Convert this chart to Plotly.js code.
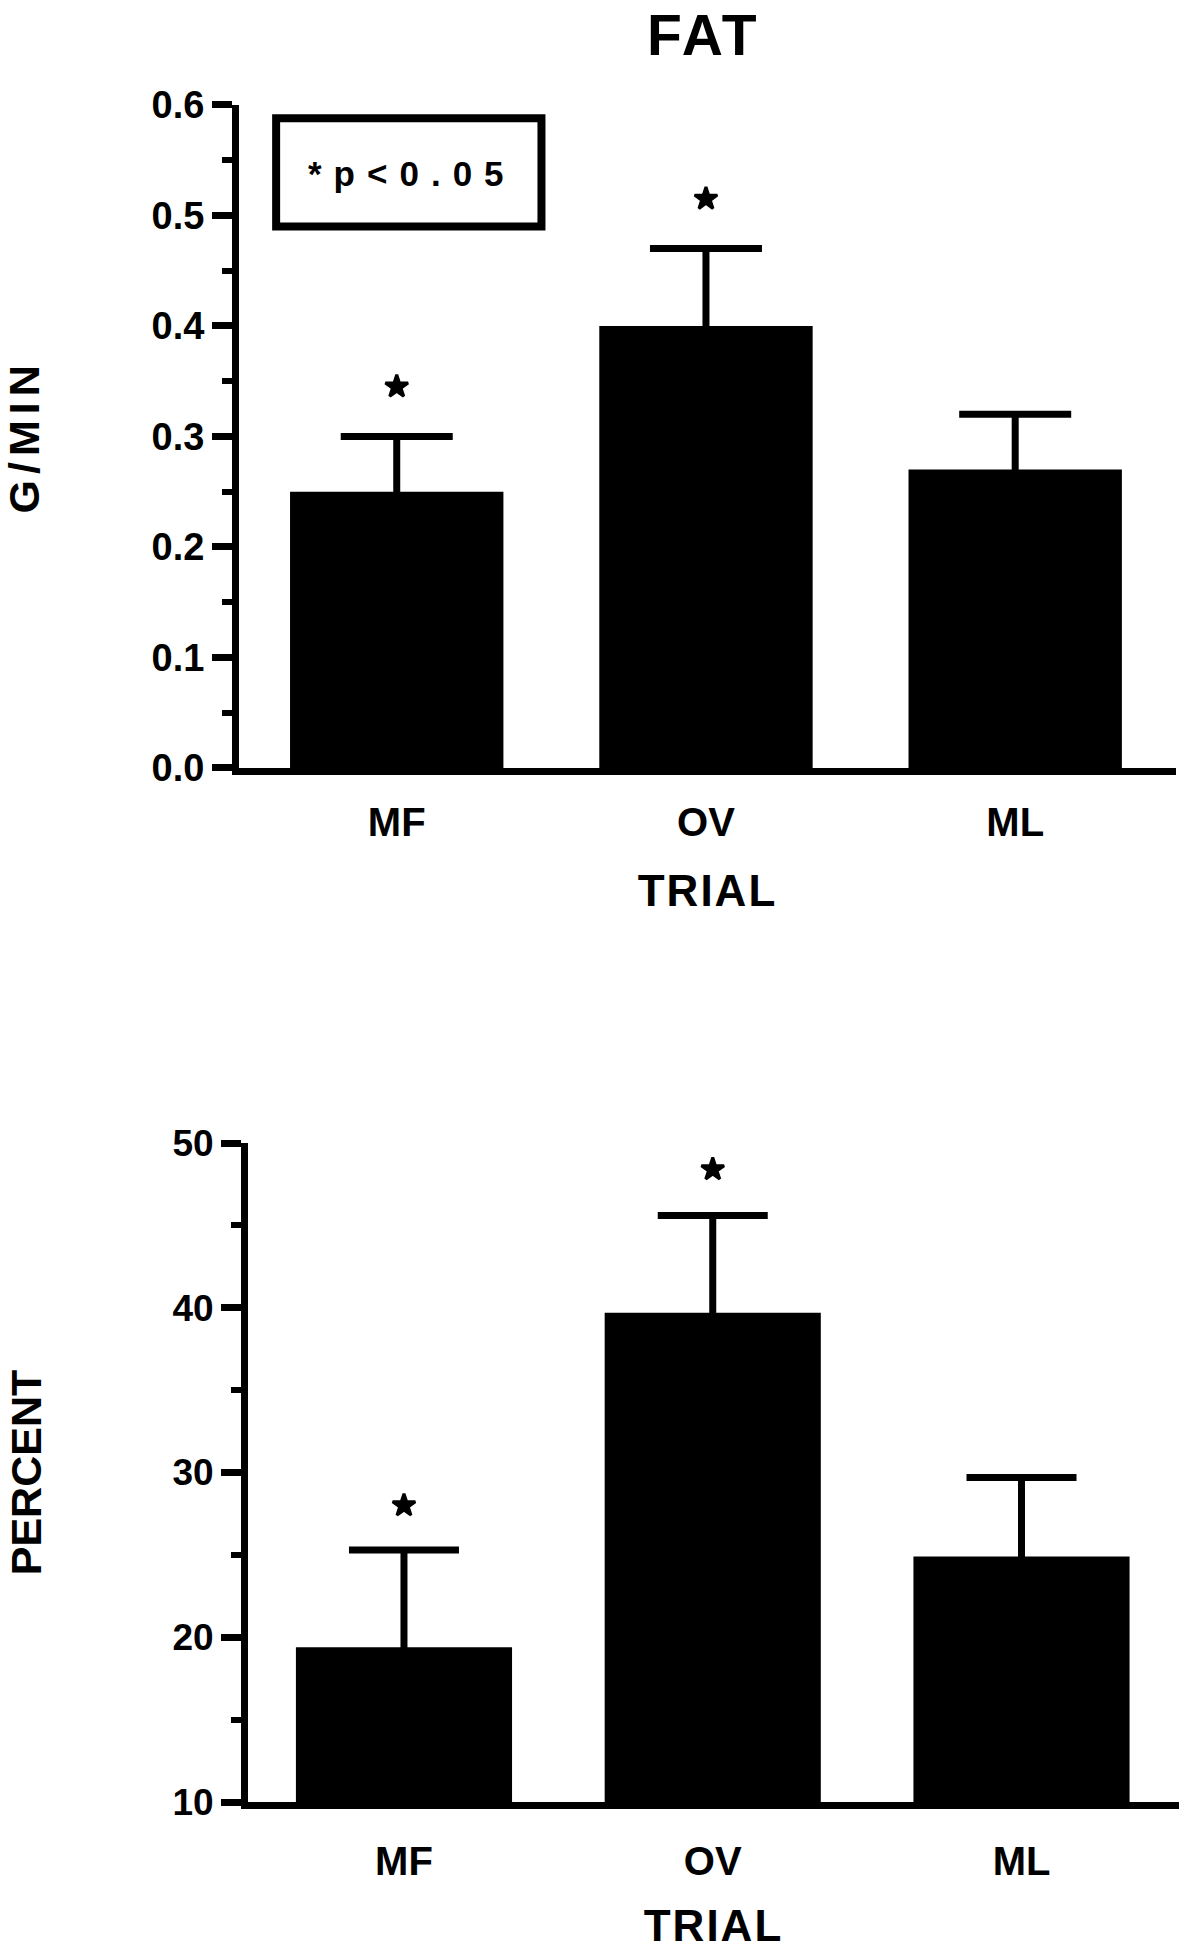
<!DOCTYPE html>
<html>
<head>
<meta charset="utf-8">
<script src="https://cdn.plot.ly/plotly-3.0.1.min.js"></script>
<style>
  body { margin: 0; background: #fff; }
  .gtitle { letter-spacing: 3px; }
  .g-ytitle text { letter-spacing: 6px; }
  .g-xtitle text, .g-x2title text { letter-spacing: 2px; }
  .annotation[data-index="0"] text { letter-spacing: 12px; }
</style>
</head>
<body>
<div id="chart"></div>
<script>
// trials on the x axis
let trials = ['MF', 'OV', 'ML'];

// upper panel: fat oxidation, g/min
let fatRate = [0.25, 0.40, 0.27];
let fatRateErr = [0.05, 0.07, 0.05];
let fatRateStar = [0.345, 0.515, null];

// lower panel: fat as percent of energy
let fatPct = [19.4, 39.7, 24.9];
let fatPctErr = [5.9, 5.9, 4.8];
let fatPctStar = [28.0, 48.4, null];

let boldFont = 'Liberation Sans, Arial, sans-serif';
let narrowFont = 'Liberation Sans Narrow, Liberation Sans, Arial, sans-serif';

// symmetric bars: the lower half is hidden inside the black bar
let trace1 = {
  x: trials,
  y: fatRate,
  type: 'bar',
  width: 0.69,
  marker: {color: 'black'},
  error_y: {type: 'data', array: fatRateErr, color: 'black', thickness: 7, width: 56},
  xaxis: 'x',
  yaxis: 'y'
};
let trace2 = {
  x: trials,
  y: fatRateStar,
  mode: 'markers',
  type: 'scatter',
  marker: {symbol: 'star', size: 17, color: 'black', line: {color: 'black', width: 3}},
  cliponaxis: false,
  xaxis: 'x',
  yaxis: 'y'
};
let trace3 = {
  x: trials,
  y: fatPct,
  type: 'bar',
  width: 0.70,
  marker: {color: 'black'},
  error_y: {type: 'data', array: fatPctErr, color: 'black', thickness: 7, width: 55},
  xaxis: 'x2',
  yaxis: 'y2'
};
let trace4 = {
  x: trials,
  y: fatPctStar,
  mode: 'markers',
  type: 'scatter',
  marker: {symbol: 'star', size: 17, color: 'black', line: {color: 'black', width: 3}},
  cliponaxis: false,
  xaxis: 'x2',
  yaxis: 'y2'
};

let data = [trace1, trace2, trace3, trace4];

let xCommon = {
  type: 'category',
  showline: true,
  linewidth: 7,
  linecolor: 'black',
  ticks: '',
  showgrid: false,
  zeroline: false,
  tickfont: {family: narrowFont, size: 40, weight: 'bold', color: 'black'}
};
let yCommon = {
  showline: true,
  linewidth: 7,
  linecolor: 'black',
  ticks: 'outside',
  ticklen: 20,
  tickwidth: 7,
  tickcolor: 'black',
  showgrid: false,
  zeroline: false,
  ticklabelstandoff: 0
};

let layout = {
  width: 1188,
  height: 1950,
  margin: {l: 0, r: 0, t: 0, b: 0},
  paper_bgcolor: 'white',
  plot_bgcolor: 'white',
  showlegend: false,
  hovermode: false,
  font: {family: boldFont, color: 'black'},
  title: {
    text: 'FAT',
    font: {family: boldFont, size: 57, weight: 'bold', color: 'black'},
    x: 0.592, xref: 'paper', xanchor: 'center',
    y: 0.992, yref: 'paper', yanchor: 'top'
  },
  xaxis: Object.assign({}, xCommon, {
    domain: [0.2012, 0.9899],
    range: [-0.51, 2.52],
    anchor: 'y',
    ticklabelstandoff: 13,
    title: {text: 'TRIAL', font: {family: boldFont, size: 44, weight: 'bold'}, standoff: 35}
  }),
  yaxis: Object.assign({}, yCommon, {
    domain: [0.6062, 0.9462],
    range: [0, 0.6],
    dtick: 0.1,
    tickformat: '.1f',
    anchor: 'x',
    tickfont: {family: boldFont, size: 38, weight: 'bold', color: 'black'},
    minor: {dtick: 0.05, ticks: 'outside', ticklen: 10, tickwidth: 6, tickcolor: 'black'},
    title: {text: 'G/MIN', font: {family: boldFont, size: 43, weight: 'bold'}, standoff: 120}
  }),
  xaxis2: Object.assign({}, xCommon, {
    domain: [0.2088, 0.9924],
    range: [-0.505, 2.51],
    anchor: 'y2',
    ticklabelstandoff: 18,
    title: {text: 'TRIAL', font: {family: boldFont, size: 44, weight: 'bold'}, standoff: 46}
  }),
  yaxis2: Object.assign({}, yCommon, {
    domain: [0.0759, 0.4138],
    range: [10, 50],
    dtick: 10,
    anchor: 'x2',
    tickfont: {family: boldFont, size: 37, weight: 'bold', color: 'black'},
    minor: {dtick: 5, ticks: 'outside', ticklen: 10, tickwidth: 6, tickcolor: 'black'},
    title: {text: 'PERCENT', font: {family: boldFont, size: 43, weight: 'bold'}, standoff: 120}
  }),
  shapes: [{
    type: 'rect',
    xref: 'x', yref: 'y',
    x0: -0.39, x1: 0.468, y0: 0.49, y1: 0.588,
    line: {color: 'black', width: 8},
    fillcolor: 'rgba(0,0,0,0)'
  }],
  annotations: [{
    text: '*p<0.05',
    xref: 'x', yref: 'y',
    x: 0.05, y: 0.538,
    showarrow: false,
    font: {family: boldFont, size: 35, weight: 'bold', color: 'black'}
  }]
};

Plotly.newPlot('chart', data, layout, {staticPlot: true});
</script>
</body>
</html>
